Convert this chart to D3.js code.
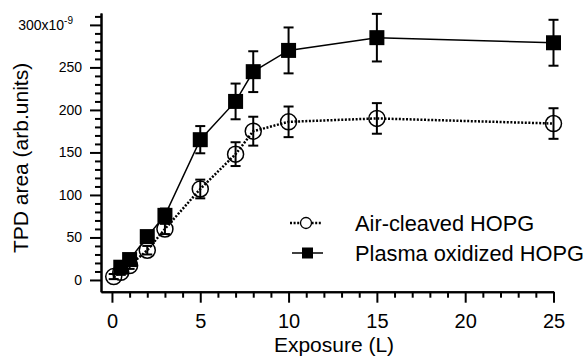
<!DOCTYPE html>
<html>
<head>
<meta charset="utf-8">
<script src="https://cdn.jsdelivr.net/npm/d3@7"></script>
<style>
  body { margin: 0; background: #fff; }
  svg { font-family: "Liberation Sans", Arial, Helvetica, sans-serif; }
</style>
</head>
<body>
<svg id="chart"></svg>
<script>
const width = 585;
const height = 356;

// Air-cleaved HOPG (open circles, dotted line)
const airX = [0.1, 0.5, 1, 2, 3, 5, 7, 8, 10, 15, 25];
const airY = [4, 9, 17, 35, 60, 107, 148, 175, 186, 190, 184];
const airErr = [3, 3, 4, 5, 6, 11, 14, 17, 18, 18, 18];

// Plasma oxidized HOPG (filled squares, solid line)
const plasmaX = [0.5, 1, 2, 3, 5, 7, 8, 10, 15, 25];
const plasmaY = [15, 24, 51, 76, 165, 210, 245, 270, 285, 279];
const plasmaErr = [4, 5, 6, 8, 16, 21, 24, 27, 28, 27];

const xMajor = [0, 5, 10, 15, 20, 25];
const yMajor = [0, 50, 100, 150, 200, 250, 300];
const legendLabels = ["Air-cleaved HOPG", "Plasma oxidized HOPG"];

const svg = d3.select("#chart")
    .attr("width", width)
    .attr("height", height);

const x = d3.scaleLinear().domain([-0.62, 25]).range([101, 553.5]);
const y = d3.scaleLinear().domain([-13.8, 314]).range([291.7, 13]);

// axes
const xMinor = d3.range(0, 26).filter(v => v % 5 !== 0);
const yMinor = d3.range(0, 311, 10).filter(v => v % 50 !== 0);

const gx = svg.append("g").attr("transform", `translate(0,${y.range()[0]})`);
gx.append("g").call(d3.axisBottom(x).tickValues(xMinor).tickSize(6).tickSizeOuter(0).tickFormat(""));
gx.append("g").call(d3.axisBottom(x).tickValues(xMajor).tickSize(11).tickSizeOuter(0).tickPadding(11));
gx.selectAll("text").attr("font-size", 20).attr("fill", "#000").attr("font-family", null);

const gy = svg.append("g").attr("transform", `translate(${x.range()[0]},0)`);
gy.append("g").call(d3.axisLeft(y).tickValues(yMinor).tickSize(6).tickSizeOuter(0).tickFormat(""));
gy.append("g").call(d3.axisLeft(y).tickValues(yMajor).tickSize(11).tickSizeOuter(0).tickPadding(8));
gy.selectAll("text").attr("font-size", 14).attr("fill", "#000").attr("font-family", null);

svg.selectAll(".domain, .tick line").attr("stroke", "#000").attr("stroke-width", 2);

// 300x10^-9 label
gy.selectAll(".tick text").filter(d => d === 300).each(function () {
    const t = d3.select(this).text("").attr("dx", -9);
    t.append("tspan").text("300x10");
    t.append("tspan").text("-9").attr("font-size", 10).attr("dy", "-0.6em");
});

// axis titles
svg.append("text")
    .attr("x", 334).attr("y", 352)
    .attr("text-anchor", "middle")
    .attr("font-size", 21)
    .text("Exposure (L)");

svg.append("text")
    .attr("transform", "translate(28,158) rotate(-90)")
    .attr("text-anchor", "middle")
    .attr("font-size", 21)
    .text("TPD area (arb.units)");

const airData = airX.map((v, i) => ({x: v, y: airY[i], e: airErr[i]}));
const plasmaData = plasmaX.map((v, i) => ({x: v, y: plasmaY[i], e: plasmaErr[i]}));

const line = d3.line().x(d => x(d.x)).y(d => y(d.y));

const drawErr = (g, data) => {
    const eb = g.selectAll("g.err").data(data).enter().append("g").attr("class", "err")
        .attr("stroke", "#000").attr("stroke-width", 2);
    eb.append("line")
        .attr("x1", d => x(d.x)).attr("x2", d => x(d.x))
        .attr("y1", d => y(d.y - d.e)).attr("y2", d => y(d.y + d.e));
    eb.append("line")
        .attr("x1", d => x(d.x) - 5).attr("x2", d => x(d.x) + 5)
        .attr("y1", d => y(d.y + d.e)).attr("y2", d => y(d.y + d.e));
    eb.append("line")
        .attr("x1", d => x(d.x) - 5).attr("x2", d => x(d.x) + 5)
        .attr("y1", d => y(d.y - d.e)).attr("y2", d => y(d.y - d.e));
};

// air-cleaved series
const gAir = svg.append("g");
gAir.append("path").datum(airData)
    .attr("d", line)
    .attr("fill", "none").attr("stroke", "#000")
    .attr("stroke-width", 2.5).attr("stroke-dasharray", "2,1.6");
drawErr(gAir, airData);
gAir.selectAll("circle").data(airData).enter().append("circle")
    .attr("cx", d => x(d.x)).attr("cy", d => y(d.y)).attr("r", 8)
    .attr("fill", "none").attr("stroke", "#000").attr("stroke-width", 1.5);

// plasma series
const gPl = svg.append("g");
gPl.append("path").datum(plasmaData)
    .attr("d", line)
    .attr("fill", "none").attr("stroke", "#000").attr("stroke-width", 1.5);
drawErr(gPl, plasmaData);
gPl.selectAll("rect").data(plasmaData).enter().append("rect")
    .attr("x", d => x(d.x) - 7.5).attr("y", d => y(d.y) - 7.5)
    .attr("width", 15).attr("height", 15).attr("fill", "#000");

// legend
const lg = svg.append("g");
const rowY = [223, 253];
lg.append("line").attr("x1", 290).attr("x2", 322).attr("y1", rowY[0]).attr("y2", rowY[0])
    .attr("stroke", "#000").attr("stroke-width", 2.5).attr("stroke-dasharray", "2,1.6");
lg.append("circle").attr("cx", 306).attr("cy", rowY[0]).attr("r", 5.5)
    .attr("fill", "#fff").attr("stroke", "#000").attr("stroke-width", 1.3);
lg.append("line").attr("x1", 292).attr("x2", 323).attr("y1", rowY[1]).attr("y2", rowY[1])
    .attr("stroke", "#000").attr("stroke-width", 1.5);
lg.append("rect").attr("x", 302).attr("y", rowY[1] - 5.5).attr("width", 11).attr("height", 11)
    .attr("fill", "#000");
lg.selectAll("text").data(legendLabels).enter().append("text")
    .attr("x", 355).attr("y", (d, i) => rowY[i]).attr("dy", "0.36em")
    .attr("font-size", 21.8)
    .text(d => d);
</script>
</body>
</html>
